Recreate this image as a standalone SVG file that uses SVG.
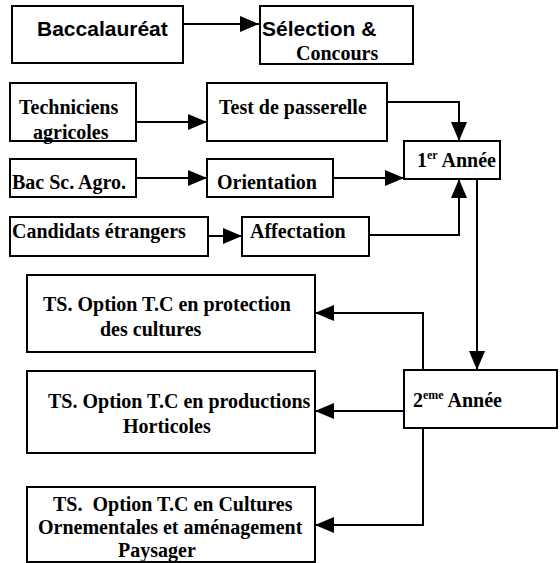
<svg xmlns="http://www.w3.org/2000/svg" width="560" height="563" viewBox="0 0 560 563">
<style>
.box{fill:#fff;stroke:#000;stroke-width:2}
.sans{font-family:"Liberation Sans",Arial,sans-serif;font-weight:bold;font-size:21px;fill:#000}
.serif{font-family:"Liberation Serif","Times New Roman",serif;font-weight:bold;font-size:20px;fill:#000}
.sup{font-size:12px}
.conn{fill:none;stroke:#000;stroke-width:2}
</style>
<defs>
<marker id="ah" markerUnits="userSpaceOnUse" markerWidth="20" markerHeight="16" refX="19" refY="8" orient="auto">
<path d="M0,0 L19,8 L0,16 z" fill="#000"/>
</marker>
</defs>
<rect width="560" height="563" fill="#fff"/>
<g id="connectors">
<path class="conn" d="M183,24 H259" marker-end="url(#ah)"/>
<path class="conn" d="M136,122 H207" marker-end="url(#ah)"/>
<path class="conn" d="M387,102 H459 V141" marker-end="url(#ah)"/>
<path class="conn" d="M136,178 H207" marker-end="url(#ah)"/>
<path class="conn" d="M333,178 H404" marker-end="url(#ah)"/>
<path class="conn" d="M208,236 H242" marker-end="url(#ah)"/>
<path class="conn" d="M369,235 H459 V179" marker-end="url(#ah)"/>
<path class="conn" d="M477,179 V370" marker-end="url(#ah)"/>
<path class="conn" d="M423,370 V313 H315" marker-end="url(#ah)"/>
<path class="conn" d="M404,411 H315" marker-end="url(#ah)"/>
<path class="conn" d="M423,428 V525 H315" marker-end="url(#ah)"/>
</g>
<g id="baccalaureat">
<rect class="box" x="12" y="6" width="171" height="57"/>
<text class="sans" x="37" y="36">Baccalauréat</text>
</g>
<g id="selection">
<rect class="box" x="260" y="6" width="153" height="58"/>
<text class="sans" x="262" y="36">Sélection &amp;</text>
<text class="serif" x="296" y="60">Concours</text>
</g>
<g id="techniciens">
<rect class="box" x="10" y="83" width="126" height="58"/>
<text class="serif" x="19" y="114">Techniciens</text>
<text class="serif" x="33" y="139">agricoles</text>
</g>
<g id="test">
<rect class="box" x="207" y="83" width="180" height="58"/>
<text class="serif" x="219" y="114">Test de passerelle</text>
</g>
<g id="annee1">
<rect class="box" x="404" y="141" width="96" height="38"/>
<text class="serif" x="417" y="167">1<tspan class="sup" dy="-8">er</tspan><tspan dy="8"> Année</tspan></text>
</g>
<g id="bacsc">
<rect class="box" x="10" y="159" width="126" height="38"/>
<text class="serif" x="12" y="189">Bac Sc. Agro.</text>
</g>
<g id="orientation">
<rect class="box" x="207" y="159" width="126" height="38"/>
<text class="serif" x="217" y="189">Orientation</text>
</g>
<g id="candidats">
<rect class="box" x="10" y="217" width="198" height="39"/>
<text class="serif" x="12" y="238">Candidats étrangers</text>
</g>
<g id="affectation">
<rect class="box" x="242" y="217" width="127" height="39"/>
<text class="serif" x="250" y="238">Affectation</text>
</g>
<g id="annee2">
<rect class="box" x="404" y="370" width="153" height="58"/>
<text class="serif" x="413" y="407">2<tspan class="sup" dy="-8">eme</tspan><tspan dy="8"> Année</tspan></text>
</g>
<g id="ts-protection">
<rect class="box" x="27" y="275" width="288" height="77"/>
<text class="serif" x="43" y="311">TS. Option T.C en protection</text>
<text class="serif" x="100" y="336">des cultures</text>
</g>
<g id="ts-productions">
<rect class="box" x="27" y="371" width="288" height="82"/>
<text class="serif" x="48" y="408">TS. Option T.C en productions</text>
<text class="serif" x="123" y="433">Horticoles</text>
</g>
<g id="ts-cultures">
<rect class="box" x="27" y="487" width="288" height="75"/>
<text class="serif" x="53" y="511" xml:space="preserve">TS.  Option T.C en Cultures</text>
<text class="serif" x="38" y="534">Ornementales et aménagement</text>
<text class="serif" x="118" y="557">Paysager</text>
</g>
</svg>
